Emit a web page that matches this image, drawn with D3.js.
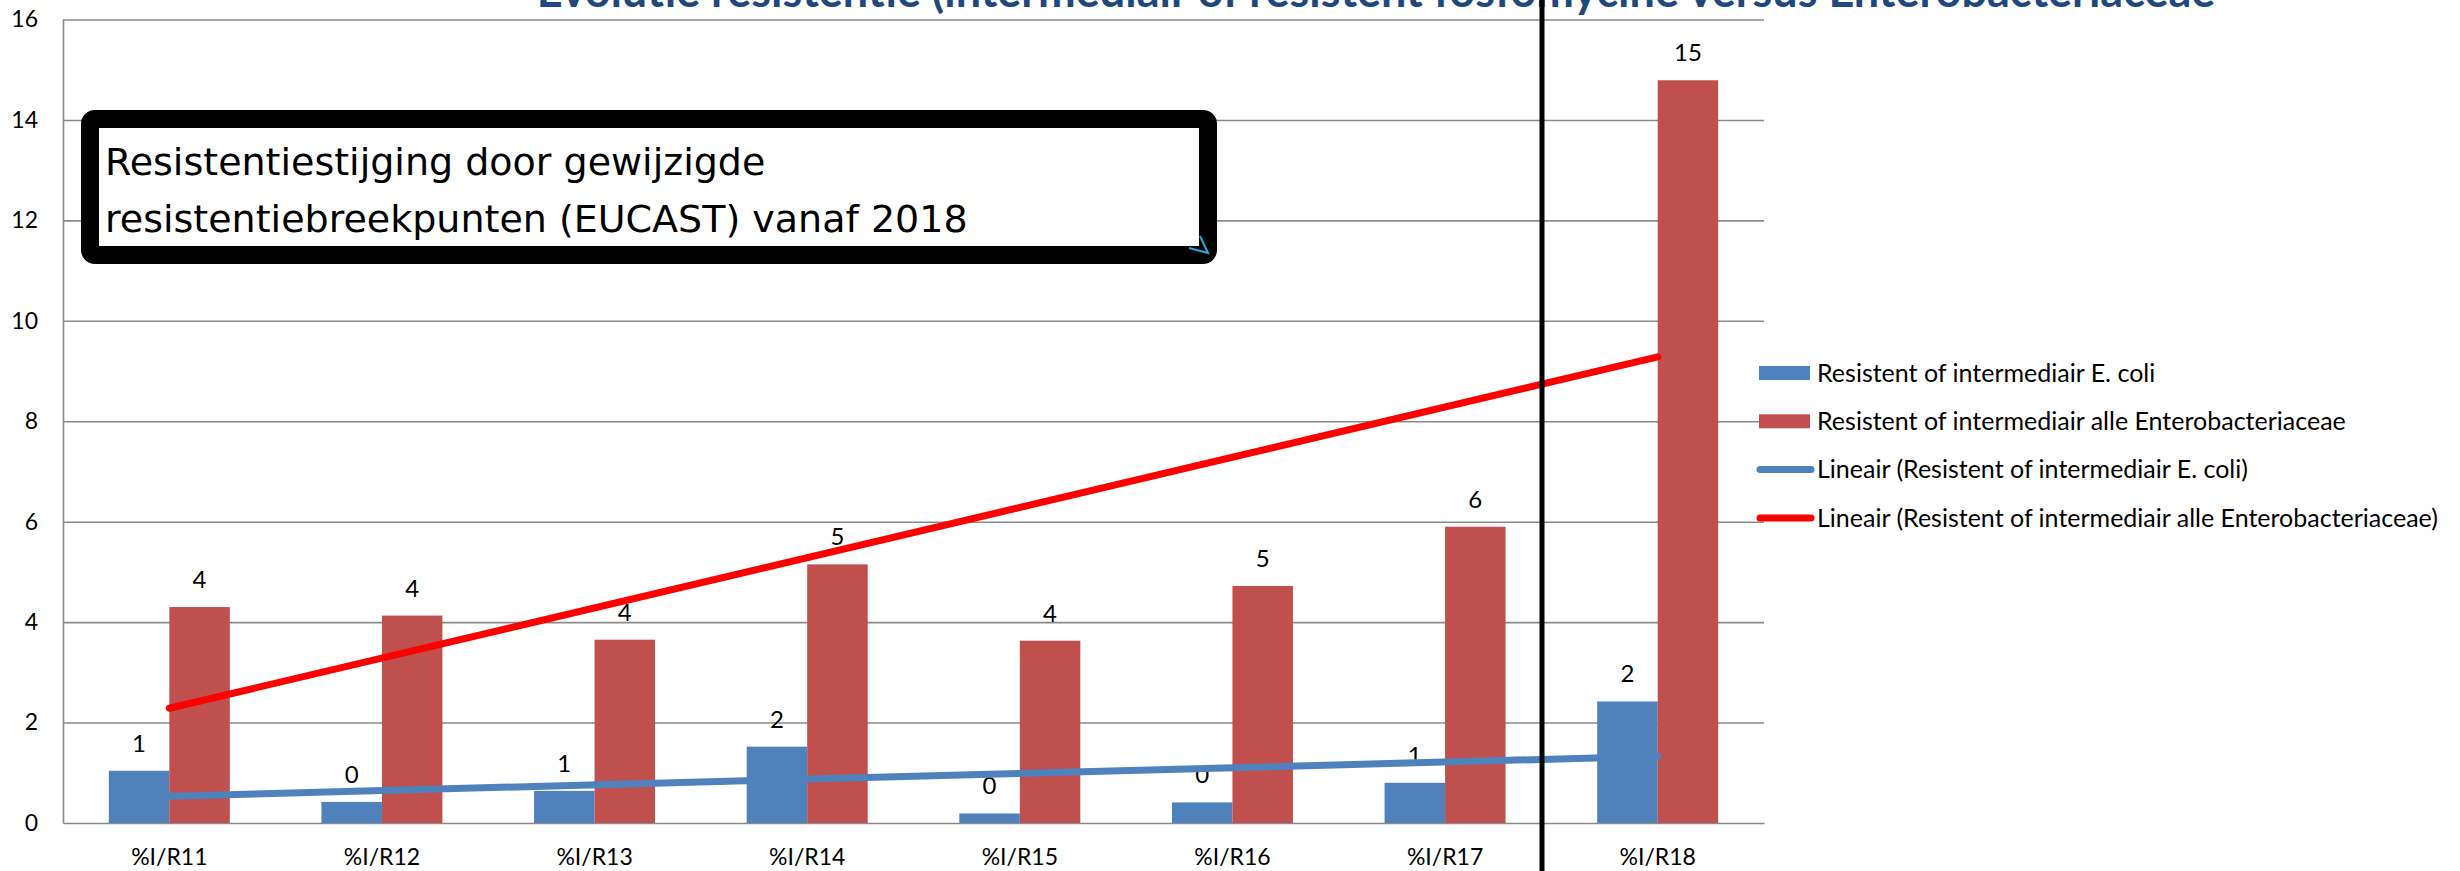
<!DOCTYPE html>
<html>
<head>
<meta charset="utf-8">
<script src="https://cdn.jsdelivr.net/npm/d3@7"></script>
<style>
  html, body { margin: 0; padding: 0; background: #ffffff; }
  svg { display: block; }
</style>
</head>
<body>
<div id="chart"></div>
<script>
// Data
const categories = ["%I/R11", "%I/R12", "%I/R13", "%I/R14", "%I/R15", "%I/R16", "%I/R17", "%I/R18"];
const ecoli = [1.04, 0.42, 0.64, 1.52, 0.19, 0.41, 0.80, 2.42];
const entero = [4.30, 4.13, 3.65, 5.15, 3.63, 4.72, 5.90, 14.79];
const yTicks = [0, 2, 4, 6, 8, 10, 12, 14, 16];
const seriesNames = ["Resistent of intermediair E. coli", "Resistent of intermediair alle Enterobacteriaceae"];
const trendNames = ["Lineair (Resistent of intermediair E. coli)", "Lineair (Resistent of intermediair alle Enterobacteriaceae)"];
const titleText = "Evolutie resistentie (intermediair of resistent fosfomycine versus Enterobacteriaceae";
const boxLines = ["Resistentiestijging door gewijzigde", "resistentiebreekpunten (EUCAST) vanaf 2018"];

// Constants
const width = 2460;
const height = 871;
const plot = { left: 63, right: 1764, top: 19.5, bottom: 823 };
const barColors = ["#4F81BD", "#C0504D"];
const trendColors = ["#4F81BD", "#FF0000"];
const labelFont = "Lato, 'Liberation Sans', sans-serif";

const svg = d3
  .select("#chart")
  .append("svg")
  .attr("width", width)
  .attr("height", height);

//-----------------------------SCALES-----------------------------//
const x = d3
  .scaleBand()
  .domain(categories)
  .range([plot.left, plot.right])
  .paddingInner(0.431)
  .paddingOuter(0.2155);

const xSub = d3.scaleBand().domain([0, 1]).range([0, x.bandwidth()]);

const y = d3.scaleLinear().domain([0, 16]).range([plot.bottom, plot.top]);

//-----------------------------TITLE------------------------------//
// only the lower part of the title shows, as in the original slide
svg
  .append("text")
  .attr("x", 1376)
  .attr("y", 7)
  .attr("text-anchor", "middle")
  .style("font-family", labelFont)
  .style("font-weight", "bold")
  .style("font-size", "45px")
  .style("fill", "#1F497D")
  .text(titleText);

//-----------------------------GRID-------------------------------//
svg
  .append("g")
  .attr("class", "grid")
  .attr("transform", `translate(${plot.left},0)`)
  .call(
    d3.axisRight(y)
      .tickValues(yTicks.filter((d) => d > 0))
      .tickSize(plot.right - plot.left)
      .tickFormat("")
  )
  .call((g) => g.select(".domain").remove())
  .call((g) => g.selectAll("line").attr("stroke", "#8a8a8a").attr("stroke-width", 1.6));

//-----------------------------AXES-------------------------------//
const yAxis = svg
  .append("g")
  .attr("transform", `translate(${plot.left},0)`)
  .call(d3.axisLeft(y).tickValues(yTicks).tickSize(0).tickPadding(25));

yAxis.select(".domain").attr("stroke", "#8a8a8a").attr("stroke-width", 1.6);
yAxis
  .selectAll("text")
  .style("font-family", labelFont)
  .style("font-size", "23px")
  .style("fill", "#000");

const xAxis = svg
  .append("g")
  .attr("transform", `translate(0,${plot.bottom})`)
  .call(d3.axisBottom(x).tickSize(0).tickPadding(26));

xAxis.select(".domain").attr("stroke", "#8a8a8a").attr("stroke-width", 1.6);
xAxis
  .selectAll("text")
  .style("font-family", labelFont)
  .style("font-size", "23px")
  .style("fill", "#000");

//-----------------------------BARS-------------------------------//
const rows = categories.map((c, i) => ({ cat: c, values: [ecoli[i], entero[i]] }));

const groups = svg
  .selectAll(".bar-group")
  .data(rows)
  .enter()
  .append("g")
  .attr("class", "bar-group")
  .attr("transform", (d) => `translate(${x(d.cat)},0)`);

groups
  .selectAll("rect")
  .data((d) => d.values.map((v, k) => ({ k: k, v: v })))
  .enter()
  .append("rect")
  .attr("x", (d) => xSub(d.k))
  .attr("y", (d) => y(d.v))
  .attr("width", xSub.bandwidth())
  .attr("height", (d) => y(0) - y(d.v))
  .attr("fill", (d) => barColors[d.k]);

groups
  .selectAll(".value-label")
  .data((d) => d.values.map((v, k) => ({ k: k, v: v })))
  .enter()
  .append("text")
  .attr("class", "value-label")
  .attr("x", (d) => xSub(d.k) + xSub.bandwidth() / 2)
  .attr("y", (d) => y(d.v) - 19)
  .attr("text-anchor", "middle")
  .style("font-family", labelFont)
  .style("font-size", "24px")
  .text((d) => d3.format(".0f")(d.v));

//-----------------------------TRENDLINES-------------------------//
// Least-squares fit over category index, as the spreadsheet trendline does
function linearFit(values) {
  const n = values.length;
  const xs = values.map((v, i) => i + 1);
  const mx = d3.mean(xs);
  const my = d3.mean(values);
  const sxy = d3.sum(values, (v, i) => (xs[i] - mx) * (v - my));
  const sxx = d3.sum(xs, (xv) => (xv - mx) * (xv - mx));
  const slope = sxy / sxx;
  return [1, n].map((xv) => ({ i: xv - 1, v: my + slope * (xv - mx) }));
}

const trendLine = d3
  .line()
  .x((d) => x(categories[d.i]) + x.bandwidth() / 2)
  .y((d) => y(d.v));

[ecoli, entero].forEach((series, k) => {
  svg
    .append("path")
    .datum(linearFit(series))
    .attr("d", trendLine)
    .attr("fill", "none")
    .attr("stroke", trendColors[k])
    .attr("stroke-width", 7)
    .attr("stroke-linecap", "round");
});

//-----------------------------LEGEND-----------------------------//
const legend = svg.append("g").attr("transform", "translate(1759,373)");
const rowGap = 48.3;

seriesNames.forEach((name, k) => {
  legend
    .append("rect")
    .attr("x", 0)
    .attr("y", k * rowGap - 7)
    .attr("width", 51)
    .attr("height", 14)
    .attr("fill", barColors[k]);
});

trendNames.forEach((name, k) => {
  legend
    .append("line")
    .attr("x1", 1)
    .attr("x2", 52)
    .attr("y1", (k + 2) * rowGap)
    .attr("y2", (k + 2) * rowGap)
    .attr("stroke", trendColors[k])
    .attr("stroke-width", 7)
    .attr("stroke-linecap", "round");
});

seriesNames.concat(trendNames).forEach((name, k) => {
  legend
    .append("text")
    .attr("x", 58)
    .attr("y", k * rowGap)
    .attr("dy", "0.35em")
    .style("font-family", labelFont)
    .style("font-size", "25px")
    .text(name);
});

//-----------------------------TEXT BOX---------------------------//
svg
  .append("rect")
  .attr("x", 90)
  .attr("y", 119)
  .attr("width", 1118)
  .attr("height", 136)
  .attr("rx", 5)
  .attr("fill", "#ffffff")
  .attr("stroke", "#000000")
  .attr("stroke-width", 18);

boxLines.forEach((line, k) => {
  svg
    .append("text")
    .attr("x", 105)
    .attr("y", 175 + k * 57)
    .style("font-family", "'DejaVu Sans', sans-serif")
    .style("font-size", "38px")
    .text(line);
});

svg
  .append("polyline")
  .attr("points", "1200,236 1208,253 1189,248")
  .attr("fill", "none")
  .attr("stroke", "#29A8E0")
  .attr("stroke-width", 2);

//-----------------------------DIVIDER----------------------------//
svg
  .append("line")
  .attr("x1", 1542)
  .attr("x2", 1542)
  .attr("y1", 0)
  .attr("y2", height)
  .attr("stroke", "#000")
  .attr("stroke-width", 5);
</script>
</body>
</html>
